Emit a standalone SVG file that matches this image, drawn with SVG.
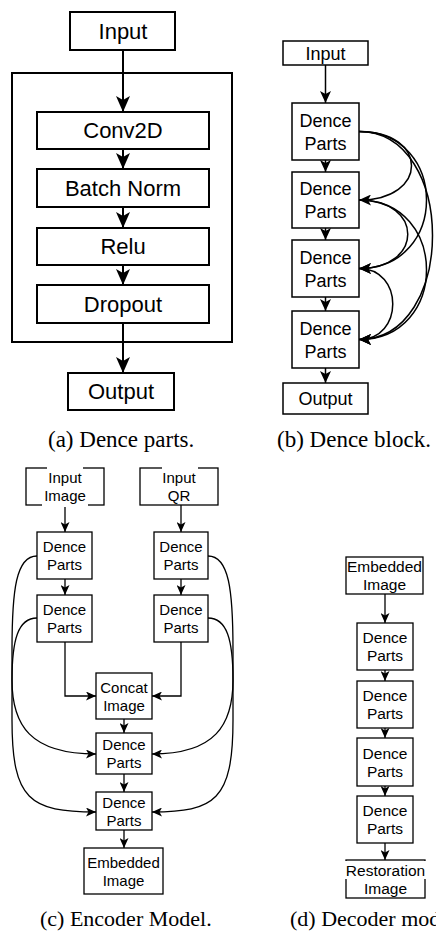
<svg xmlns="http://www.w3.org/2000/svg" width="436" height="940" viewBox="0 0 436 940">
<style>
rect.n{fill:#fff;stroke:#000}
.sa{stroke-width:2}
.sb{stroke-width:1.5}
.sc{stroke-width:1.3}
rect.bg{fill:#fff;stroke:none}
text{font-family:"Liberation Sans",Arial,sans-serif;text-anchor:middle;fill:#000}
.fa{font-size:22px}
.fb{font-size:18px}
.fc{font-size:15px}
.fd{font-size:15.5px}
.cap{font-family:"Liberation Serif","Times New Roman",serif;font-size:23px;text-anchor:start}
.cap2{font-size:22px}
path.e{fill:none;stroke:#000}
</style>
<defs>
<marker id="ma" markerUnits="userSpaceOnUse" viewBox="0 0 16 14" refX="16" refY="7" markerWidth="16" markerHeight="14" orient="auto"><path d="M0,0 L16,7 L0,14 L4,7 Z"/></marker>
<marker id="mb" markerUnits="userSpaceOnUse" viewBox="0 0 12 11" refX="12" refY="5.5" markerWidth="12" markerHeight="11" orient="auto"><path d="M0,0 L12,5.5 L0,11 L3,5.5 Z"/></marker>
<marker id="mc" markerUnits="userSpaceOnUse" viewBox="0 0 10 9" refX="10" refY="4.5" markerWidth="10" markerHeight="9" orient="auto"><path d="M0,0 L10,4.5 L0,9 L2.5,4.5 Z"/></marker>
</defs>
<rect width="436" height="940" fill="#fff"/>

<!-- (a) -->
<g id="a-block"><rect class="n sa" x="12" y="73" width="220" height="269" fill="none"/></g>
<g id="a-connectors">
<path class="e sa" d="M123,50 V112" marker-end="url(#ma)"/>
<path class="e sa" d="M123,149 V169" marker-end="url(#ma)"/>
<path class="e sa" d="M123,207 V228" marker-end="url(#ma)"/>
<path class="e sa" d="M123,265 V285" marker-end="url(#ma)"/>
<path class="e sa" d="M123,323 V373" marker-end="url(#ma)"/>
</g>
<g id="a-input"><rect class="n sa" x="70" y="12" width="105" height="38"/><text class="fa" x="123" y="38.5">Input</text></g>
<g id="a-conv"><rect class="n sa" x="37" y="112" width="172" height="37"/><text class="fa" x="123" y="138">Conv2D</text></g>
<g id="a-bn"><rect class="n sa" x="37" y="169" width="172" height="38"/><text class="fa" x="123" y="195.5">Batch Norm</text></g>
<g id="a-relu"><rect class="n sa" x="37" y="228" width="172" height="37"/><text class="fa" x="123" y="254">Relu</text></g>
<g id="a-drop"><rect class="n sa" x="37" y="285" width="172" height="38"/><text class="fa" x="123" y="311.5">Dropout</text></g>
<g id="a-output"><rect class="n sa" x="68" y="373" width="106" height="37"/><text class="fa" x="121" y="399">Output</text></g>
<text class="cap" x="48" y="447">(a) Dence parts.</text>

<!-- (b) -->
<g id="b-connectors">
<path class="e sb" d="M325.5,65 V103" marker-end="url(#mb)"/>
<path class="e sb" d="M325.5,160 V172" marker-end="url(#mb)"/>
<path class="e sb" d="M325.5,228 V240" marker-end="url(#mb)"/>
<path class="e sb" d="M325.5,297 V311" marker-end="url(#mb)"/>
<path class="e sb" d="M325.5,368 V383" marker-end="url(#mb)"/>
<path class="e sb" d="M359,131.5 C429,131.5 429,200 359,200" marker-end="url(#mb)"/>
<path class="e sb" d="M359,131.5 C449,131.5 449,268.5 359,268.5" marker-end="url(#mb)"/>
<path class="e sb" d="M359,131.5 C457,131.5 457,339.5 359,339.5" marker-end="url(#mb)"/>
<path class="e sb" d="M359,200 C424,200 424,268.5 359,268.5" marker-end="url(#mb)"/>
<path class="e sb" d="M359,200 C449,200 449,339.5 359,339.5" marker-end="url(#mb)"/>
<path class="e sb" d="M359,268.5 C404,268.5 404,339.5 359,339.5" marker-end="url(#mb)"/>
</g>
<g id="b-input"><rect class="n sb" x="283" y="41" width="85" height="24"/><text class="fb" x="325.5" y="59.5">Input</text></g>
<g id="b-d1"><rect class="n sb" x="292" y="103" width="67" height="57"/><text class="fb" x="325.5" y="126.5">Dence<tspan x="325.5" dy="23">Parts</tspan></text></g>
<g id="b-d2"><rect class="n sb" x="292" y="172" width="67" height="56"/><text class="fb" x="325.5" y="195">Dence<tspan x="325.5" dy="23">Parts</tspan></text></g>
<g id="b-d3"><rect class="n sb" x="292" y="240" width="67" height="57"/><text class="fb" x="325.5" y="263.5">Dence<tspan x="325.5" dy="23">Parts</tspan></text></g>
<g id="b-d4"><rect class="n sb" x="292" y="311" width="67" height="57"/><text class="fb" x="325.5" y="334.5">Dence<tspan x="325.5" dy="23">Parts</tspan></text></g>
<g id="b-output"><rect class="n sb" x="283" y="383" width="85" height="31"/><text class="fb" x="325.5" y="405">Output</text></g>
<text class="cap" x="277" y="447">(b) Dence block.</text>

<!-- (c) -->
<g id="c-connectors">
<path class="e sc" d="M65,505 V532" marker-end="url(#mc)"/>
<path class="e sc" d="M65,579 V595" marker-end="url(#mc)"/>
<path class="e sc" d="M181,505 V532" marker-end="url(#mc)"/>
<path class="e sc" d="M181,579 V595" marker-end="url(#mc)"/>
<path class="e sc" d="M65,642 V696 H96" marker-end="url(#mc)"/>
<path class="e sc" d="M181,642 V696 H152" marker-end="url(#mc)"/>
<path class="e sc" d="M124,719 V733" marker-end="url(#mc)"/>
<path class="e sc" d="M124,774 V792" marker-end="url(#mc)"/>
<path class="e sc" d="M124,830 V848" marker-end="url(#mc)"/>
<path class="e sc" d="M37,556 C16,556 12,590 12,650 L12,720 C12,800 30,812 96,812" marker-end="url(#mc)"/>
<path class="e sc" d="M37,618 C18,618 12,640 12,680 C12,725 30,754 96,754" marker-end="url(#mc)"/>
<path class="e sc" d="M208,556 C229,556 233,590 233,650 L233,720 C233,800 215,812 152,812" marker-end="url(#mc)"/>
<path class="e sc" d="M208,618 C227,618 233,640 233,680 C233,725 215,754 152,754" marker-end="url(#mc)"/>
</g>
<g id="c-input-image"><rect class="n sc" x="26" y="468" width="78" height="37"/><rect class="bg" x="47" y="466" width="36" height="20"/><rect class="bg" x="42" y="487" width="46" height="20"/><text class="fc" x="65" y="483">Input<tspan x="65" dy="18">Image</tspan></text></g>
<g id="c-input-qr"><rect class="n sc" x="140" y="468" width="78" height="37"/><rect class="bg" x="162" y="466" width="36" height="20"/><text class="fc" x="179" y="483">Input<tspan x="179" dy="18">QR</tspan></text></g>
<g id="c-ld1"><rect class="n sc" x="37" y="532" width="55" height="47"/><text class="fc" x="64.5" y="552">Dence<tspan x="64.5" dy="18">Parts</tspan></text></g>
<g id="c-ld2"><rect class="n sc" x="37" y="595" width="55" height="47"/><text class="fc" x="64.5" y="615">Dence<tspan x="64.5" dy="18">Parts</tspan></text></g>
<g id="c-rd1"><rect class="n sc" x="154" y="532" width="54" height="47"/><text class="fc" x="181" y="552">Dence<tspan x="181" dy="18">Parts</tspan></text></g>
<g id="c-rd2"><rect class="n sc" x="154" y="595" width="54" height="47"/><text class="fc" x="181" y="615">Dence<tspan x="181" dy="18">Parts</tspan></text></g>
<g id="c-concat"><rect class="n sc" x="96" y="673" width="56" height="46"/><text class="fc" x="124" y="692.5">Concat<tspan x="124" dy="18">Image</tspan></text></g>
<g id="c-cd1"><rect class="n sc" x="96" y="733" width="56" height="41"/><text class="fc" x="124" y="750">Dence<tspan x="124" dy="18">Parts</tspan></text></g>
<g id="c-cd2"><rect class="n sc" x="96" y="792" width="56" height="38"/><text class="fc" x="124" y="807.5">Dence<tspan x="124" dy="18">Parts</tspan></text></g>
<g id="c-embedded"><rect class="n sc" x="84" y="848" width="79" height="46"/><text class="fc" x="123.5" y="867.5">Embedded<tspan x="123.5" dy="18">Image</tspan></text></g>
<text class="cap cap2" x="40" y="926">(c) Encoder Model.</text>

<!-- (d) -->
<g id="d-connectors">
<path class="e sc" d="M385,594 V623" marker-end="url(#mc)"/>
<path class="e sc" d="M385,670 V681" marker-end="url(#mc)"/>
<path class="e sc" d="M385,728 V738" marker-end="url(#mc)"/>
<path class="e sc" d="M385,786 V796" marker-end="url(#mc)"/>
<path class="e sc" d="M385,843 V860" marker-end="url(#mc)"/>
</g>
<g id="d-embedded"><rect class="n sc" x="346" y="557" width="77" height="37"/><text class="fd" x="384.5" y="572">Embedded<tspan x="384.5" dy="18">Image</tspan></text></g>
<g id="d-d1"><rect class="n sc" x="357" y="623" width="56" height="47"/><text class="fd" x="385" y="643">Dence<tspan x="385" dy="18">Parts</tspan></text></g>
<g id="d-d2"><rect class="n sc" x="357" y="681" width="56" height="47"/><text class="fd" x="385" y="701">Dence<tspan x="385" dy="18">Parts</tspan></text></g>
<g id="d-d3"><rect class="n sc" x="357" y="738" width="56" height="48"/><text class="fd" x="385" y="758.5">Dence<tspan x="385" dy="18">Parts</tspan></text></g>
<g id="d-d4"><rect class="n sc" x="357" y="796" width="56" height="47"/><text class="fd" x="385" y="816">Dence<tspan x="385" dy="18">Parts</tspan></text></g>
<g id="d-restoration"><rect class="n sc" x="346" y="860" width="79" height="38"/><rect class="bg" x="345" y="861" width="81" height="18"/><text class="fd" x="385.5" y="875.5">Restoration<tspan x="385.5" dy="18">Image</tspan></text></g>
<text class="cap cap2" x="290" y="926">(d) Decoder model.</text>
</svg>
